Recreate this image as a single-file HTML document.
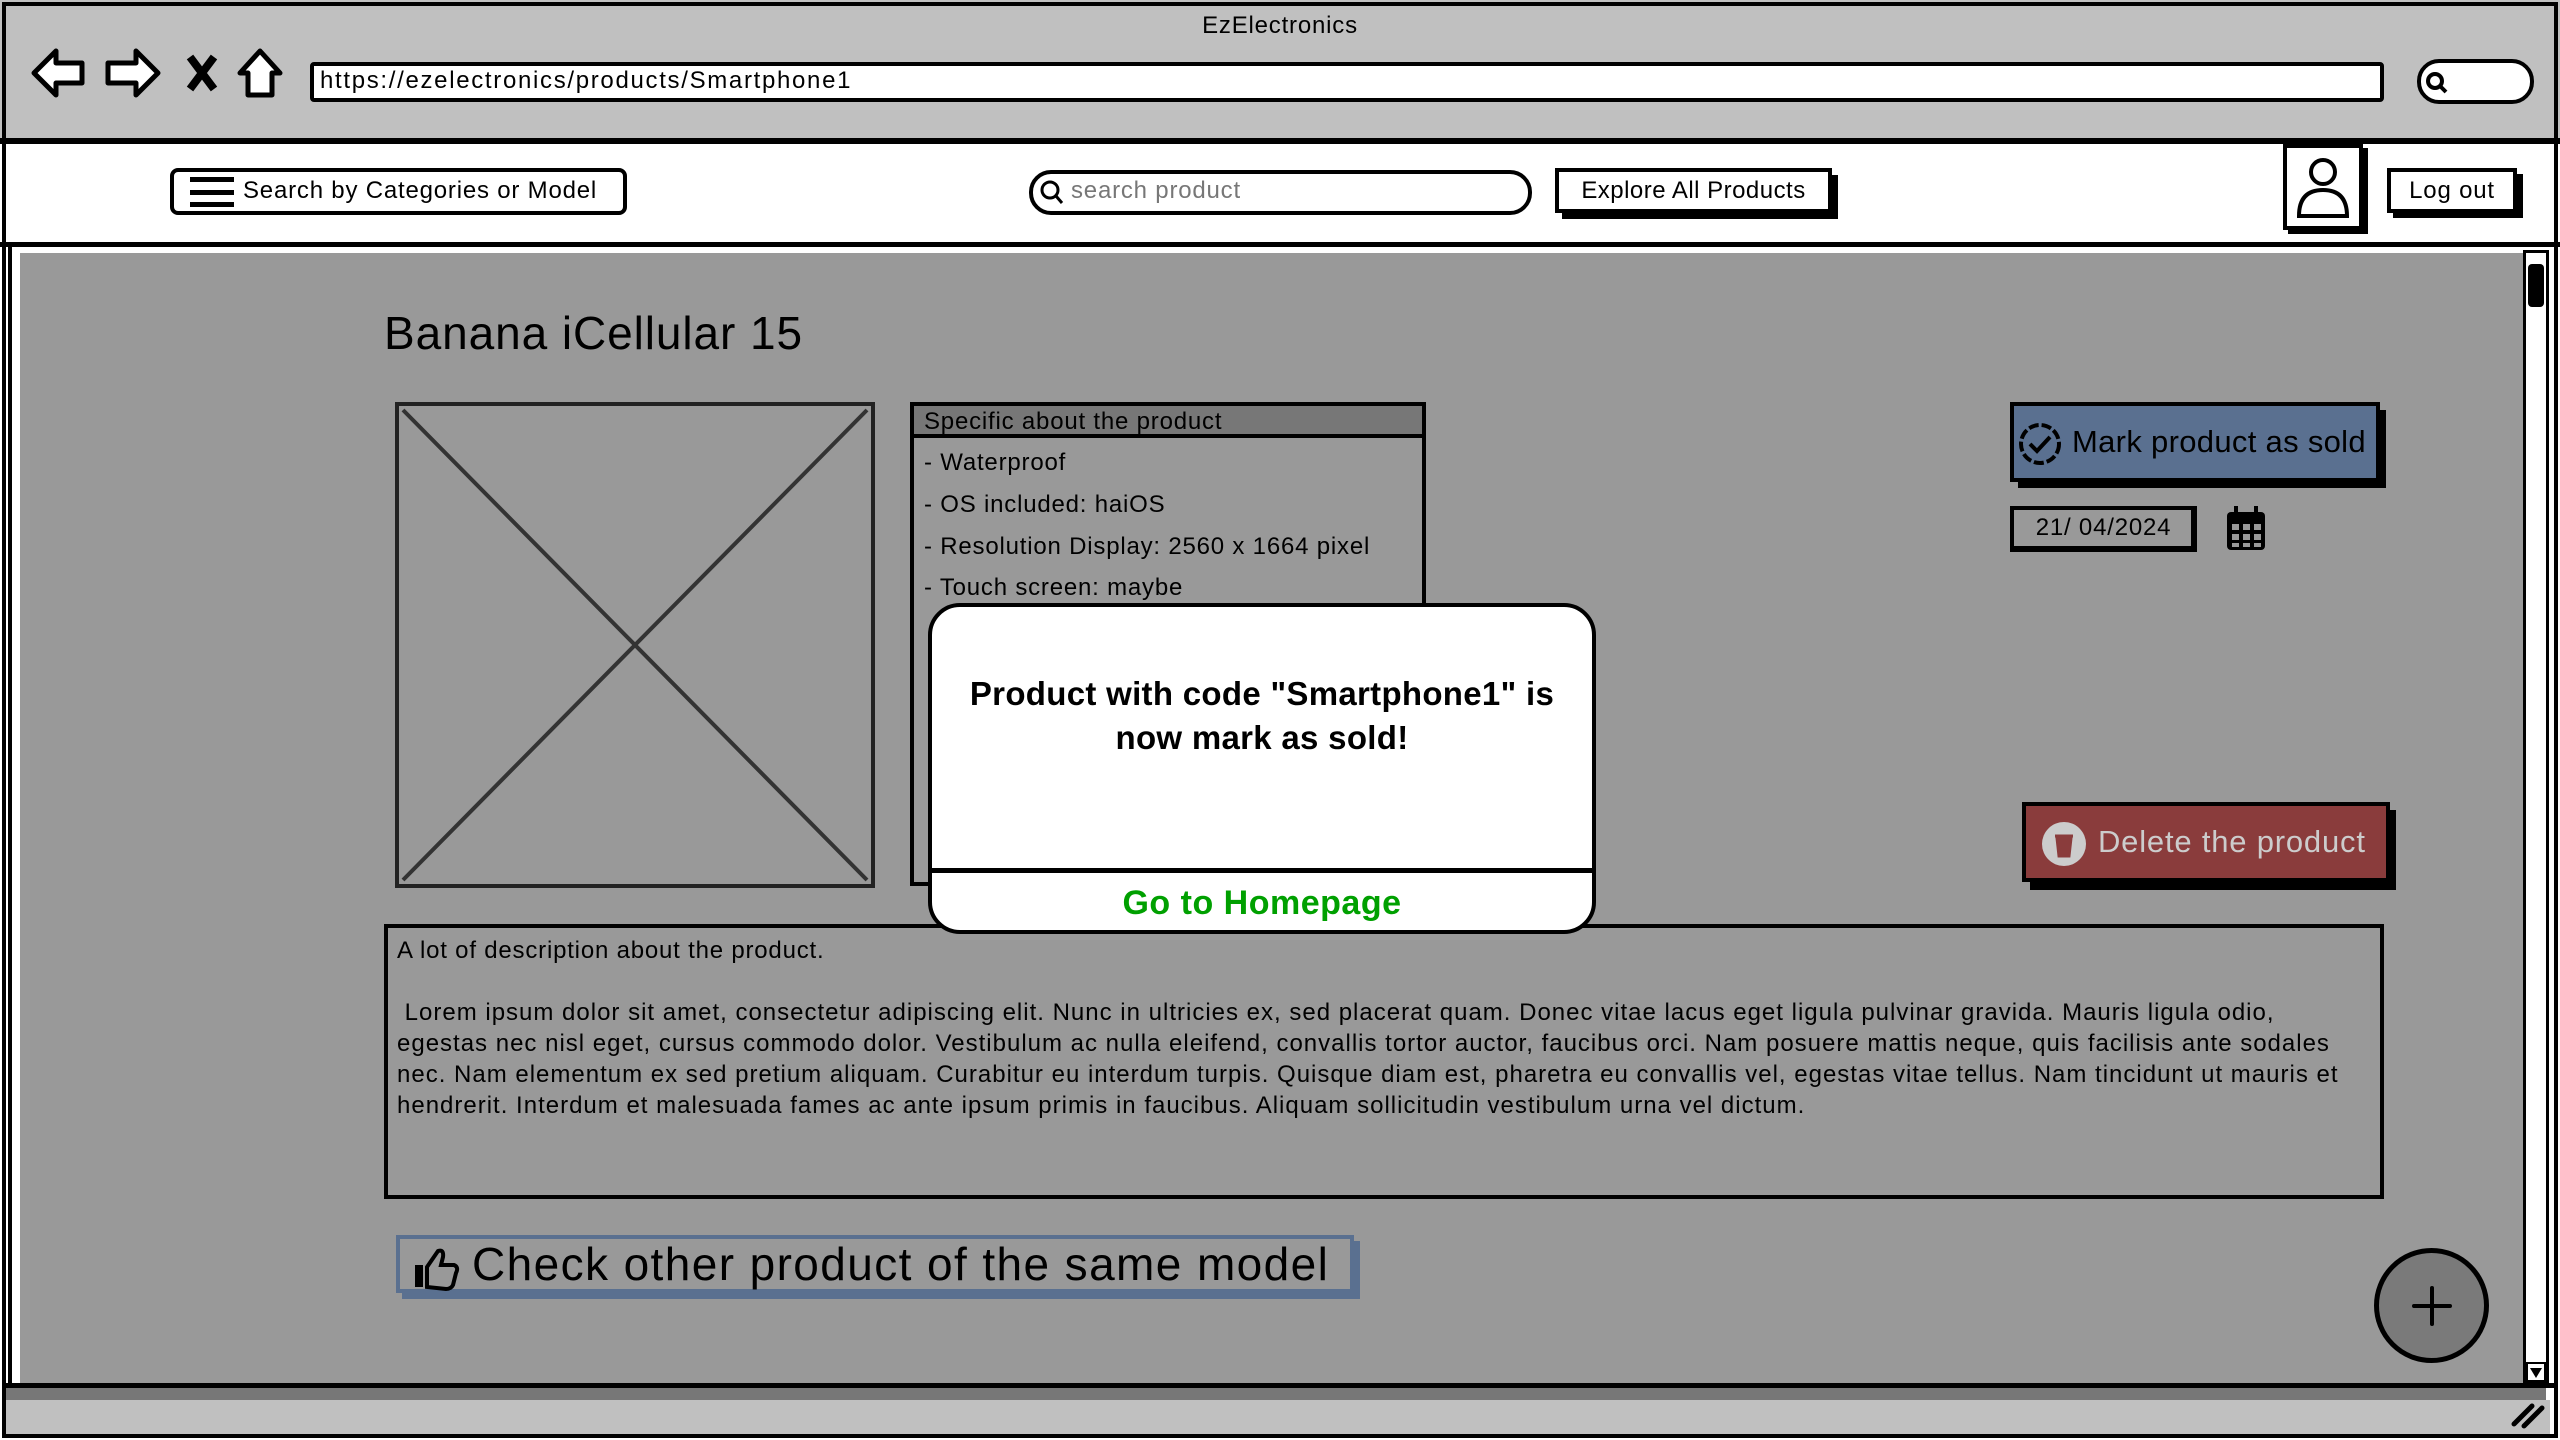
<!DOCTYPE html>
<html><head><meta charset="utf-8"><style>
*{margin:0;padding:0;box-sizing:border-box}
body{width:2560px;height:1440px;position:relative;overflow:hidden;background:#fff;font-family:"Liberation Sans",sans-serif;color:#000;letter-spacing:0.05em}
.a{position:absolute}
.t{position:absolute;white-space:nowrap}
</style></head><body>
<div class="a" style="left:0;top:0;width:2560px;height:140px;background:#c0c0c0"></div>
<div class="a" style="left:2px;top:2px;width:2556px;height:1436px;border:4px solid #000"></div>
<div class="t" style="left:0;width:2560px;text-align:center;top:12px;font-size:24px">EzElectronics</div>
<svg class="a" style="left:28px;top:45px" width="260" height="58" viewBox="0 0 260 58">
<path d="M6 28 L28 6 L28 18 L54 18 L54 38 L28 38 L28 50 Z" fill="#fff" stroke="#000" stroke-width="5" stroke-linejoin="round"/>
<path d="M130 28 L108 6 L108 18 L80 18 L80 38 L108 38 L108 50 Z" fill="#fff" stroke="#000" stroke-width="5" stroke-linejoin="round"/>
<path d="M162 12 L186 44 M186 12 L162 44" stroke="#000" stroke-width="8"/>
<path d="M232 6 L252 28 L244 28 L244 50 L220 50 L220 28 L212 28 Z" fill="#fff" stroke="#000" stroke-width="5" stroke-linejoin="round"/>
</svg>
<div class="a" style="left:310px;top:62px;width:2074px;height:40px;background:#fff;border:4px solid #000;border-radius:4px"></div>
<div class="t" style="left:320px;top:67px;font-size:24px;letter-spacing:0.07em">https://ezelectronics/products/Smartphone1</div>
<div class="a" style="left:2417px;top:59px;width:117px;height:45px;background:#fff;border:4px solid #000;border-radius:22px"></div>
<svg class="a" style="left:2424px;top:70px" width="26" height="26"><circle cx="11" cy="11" r="7" fill="none" stroke="#000" stroke-width="4"/><path d="M16 16 L22 22" stroke="#000" stroke-width="4"/></svg>
<div class="a" style="left:0;top:138px;width:2560px;height:6px;background:#000"></div>
<div class="a" style="left:0;top:242px;width:2560px;height:5px;background:#000"></div>
<div class="a" style="left:170px;top:168px;width:457px;height:47px;border:4px solid #000;border-radius:8px;background:#fff"></div>
<div class="a" style="left:190px;top:177px;width:44px;height:30px;border-top:5px solid #000;border-bottom:5px solid #000"></div>
<div class="a" style="left:190px;top:190px;width:44px;height:5px;background:#000"></div>
<div class="t" style="left:243px;top:177px;font-size:24px">Search by Categories or Model</div>
<div class="a" style="left:1029px;top:170px;width:503px;height:45px;border:4px solid #000;border-radius:22px;background:#fff"></div>
<svg class="a" style="left:1038px;top:178px" width="28" height="30"><circle cx="12" cy="12" r="8" fill="none" stroke="#000" stroke-width="3"/><path d="M18 18 L24 25" stroke="#000" stroke-width="3"/></svg>
<div class="t" style="left:1071px;top:177px;font-size:24px;color:#777">search product</div>
<div class="a" style="left:1562px;top:175px;width:276px;height:44px;background:#000"></div>
<div class="a" style="left:1555px;top:168px;width:277px;height:45px;border:4px solid #000;background:#fff"></div>
<div class="t" style="left:1555px;width:277px;text-align:center;top:177px;font-size:24px;letter-spacing:0.02em">Explore All Products</div>
<div class="a" style="left:2288px;top:148px;width:80px;height:86px;background:#000"></div>
<div class="a" style="left:2283px;top:144px;width:80px;height:86px;border:4px solid #000;background:#fff"></div>
<svg class="a" style="left:2287px;top:148px" width="72" height="78"><circle cx="36" cy="24" r="12" fill="none" stroke="#000" stroke-width="4"/><path d="M12 68 Q12 42 36 42 Q60 42 60 68 Z" fill="none" stroke="#000" stroke-width="4"/></svg>
<div class="a" style="left:2393px;top:174px;width:130px;height:44px;background:#000"></div>
<div class="a" style="left:2387px;top:168px;width:130px;height:45px;border:4px solid #000;background:#fff"></div>
<div class="t" style="left:2387px;width:130px;text-align:center;top:177px;font-size:24px">Log out</div>
<div class="a" style="left:8px;top:247px;width:2544px;height:1140px;border-left:4px solid #000"></div>
<div class="a" style="left:20px;top:253px;width:2505px;height:1132px;background:#999"></div>
<div class="a" style="left:2523px;top:250px;width:26px;height:1135px;border:3px solid #000;background:#fff"></div>
<div class="a" style="left:2528px;top:264px;width:16px;height:43px;background:#000;border-radius:4px"></div>
<div class="a" style="left:2526px;top:1362px;width:20px;height:20px;border:2px solid #000"></div>
<svg class="a" style="left:2528px;top:1366px" width="16" height="14"><path d="M2 2 L14 2 L8 12 Z" fill="#000"/></svg>
<div class="a" style="left:4px;top:1383px;width:2552px;height:5px;background:#000"></div>
<div class="a" style="left:6px;top:1388px;width:2540px;height:12px;background:#777"></div>
<div class="a" style="left:6px;top:1400px;width:2544px;height:34px;background:#c0c0c0"></div>
<svg class="a" style="left:2510px;top:1400px" width="36" height="30"><path d="M4 24 L22 6 M14 26 L32 8" stroke="#000" stroke-width="5" stroke-linecap="round"/></svg>

<div class="t" style="left:384px;top:306px;font-size:46px;letter-spacing:0.02em">Banana iCellular 15</div>
<div class="a" style="left:395px;top:402px;width:480px;height:486px;border:4px solid #222"></div>
<svg class="a" style="left:395px;top:402px" width="480" height="486"><path d="M8 8 L472 478 M472 8 L8 478" stroke="#333" stroke-width="4"/></svg>
<div class="a" style="left:910px;top:402px;width:516px;height:484px;border:4px solid #000"></div>
<div class="a" style="left:914px;top:406px;width:508px;height:32px;background:#777;border-bottom:4px solid #000"></div>
<div class="t" style="left:924px;top:408px;font-size:24px">Specific about the product</div>
<div class="t" style="left:924px;top:449px;font-size:24px">- Waterproof</div>
<div class="t" style="left:924px;top:491px;font-size:24px">- OS included: haiOS</div>
<div class="t" style="left:924px;top:533px;font-size:24px">- Resolution Display: 2560 x 1664 pixel</div>
<div class="t" style="left:924px;top:574px;font-size:24px">- Touch screen: maybe</div>
<div class="a" style="left:2018px;top:410px;width:368px;height:78px;background:#000"></div>
<div class="a" style="left:2010px;top:402px;width:370px;height:80px;background:#5a7090;border:4px solid #000"></div>
<svg class="a" style="left:2016px;top:420px" width="48" height="48"><circle cx="24" cy="24" r="19" fill="none" stroke="#000" stroke-width="4" stroke-dasharray="10 3"/><path d="M14 24 L21 31 L34 17" fill="none" stroke="#000" stroke-width="4"/></svg>
<div class="t" style="left:2072px;top:424px;font-size:31px;letter-spacing:0.01em">Mark product as sold</div>
<div class="a" style="left:2010px;top:506px;width:187px;height:46px;border:4px solid #000;border-right-width:6px;border-bottom-width:6px"></div>
<div class="t" style="left:2010px;width:187px;text-align:center;top:514px;font-size:24px">21/ 04/2024</div>
<svg class="a" style="left:2224px;top:504px" width="44" height="50"><rect x="3" y="8" width="38" height="38" rx="4" fill="#000"/><rect x="10" y="2" width="4" height="10" fill="#000"/><rect x="30" y="2" width="4" height="10" fill="#000"/><g fill="#999"><rect x="8" y="20" width="7" height="6"/><rect x="19" y="20" width="7" height="6"/><rect x="30" y="20" width="7" height="6"/><rect x="8" y="30" width="7" height="6"/><rect x="19" y="30" width="7" height="6"/><rect x="30" y="30" width="7" height="6"/><rect x="8" y="39" width="7" height="4"/><rect x="19" y="39" width="7" height="4"/><rect x="30" y="39" width="7" height="4"/></g></svg>
<div class="a" style="left:2030px;top:810px;width:366px;height:80px;background:#000"></div>
<div class="a" style="left:2022px;top:802px;width:368px;height:80px;background:#8a3c3c;border:4px solid #000"></div>
<svg class="a" style="left:2040px;top:820px" width="48" height="48"><circle cx="24" cy="24" r="22" fill="#ccc"/><path d="M15 16 L33 16 M17 18 L19 36 L29 36 L31 18 Z" stroke="#8a3c3c" stroke-width="3" fill="#8a3c3c"/></svg>
<div class="t" style="left:2098px;top:824px;font-size:31px;color:#ccc">Delete the product</div>
<div class="a" style="left:384px;top:924px;width:2000px;height:275px;border:4px solid #000"></div>
<div class="t" style="left:397px;top:935px;font-size:24px;line-height:31px">A lot of description about the product.</div>
<div class="t" style="left:397px;top:997px;font-size:24px;line-height:31px;letter-spacing:1.0px">&nbsp;Lorem ipsum dolor sit amet, consectetur adipiscing elit. Nunc in ultricies ex, sed placerat quam. Donec vitae lacus eget ligula pulvinar gravida. Mauris ligula odio,<br>egestas nec nisl eget, cursus commodo dolor. Vestibulum ac nulla eleifend, convallis tortor auctor, faucibus orci. Nam posuere mattis neque, quis facilisis ante sodales<br>nec. Nam elementum ex sed pretium aliquam. Curabitur eu interdum turpis. Quisque diam est, pharetra eu convallis vel, egestas vitae tellus. Nam tincidunt ut mauris et<br>hendrerit. Interdum et malesuada fames ac ante ipsum primis in faucibus. Aliquam sollicitudin vestibulum urna vel dictum.</div>
<div class="a" style="left:402px;top:1241px;width:958px;height:58px;background:#5a7090"></div>
<div class="a" style="left:396px;top:1235px;width:958px;height:58px;border:4px solid #5a7090;background:#999"></div>
<svg class="a" style="left:412px;top:1245px" width="50" height="46"><rect x="3" y="20" width="8" height="22" fill="#000"/><path d="M15 22 L26 6 Q32 4 31 12 L29 20 L42 20 Q47 22 44 28 L41 40 Q39 44 34 44 L15 42 Z" fill="none" stroke="#000" stroke-width="4"/></svg>
<div class="t" style="left:472px;top:1237px;font-size:46px;letter-spacing:1.4px">Check other product of the same model</div>
<div class="a" style="left:2374px;top:1248px;width:115px;height:115px;border-radius:50%;background:#7a7a7a;border:5px solid #000"></div>
<svg class="a" style="left:2410px;top:1284px" width="44" height="44"><path d="M22 4 L22 40 M4 22 L40 22" stroke="#000" stroke-width="4" stroke-linecap="round"/></svg>
<div class="a" style="left:928px;top:603px;width:668px;height:331px;background:#fff;border:4px solid #000;border-radius:32px"></div>
<div class="a" style="left:930px;top:868px;width:664px;height:5px;background:#000"></div>
<div class="t" style="left:928px;width:668px;text-align:center;top:672px;font-size:33px;font-weight:bold;line-height:44px;letter-spacing:0.3px">Product with code "Smartphone1" is<br>now mark as sold!</div>
<div class="t" style="left:928px;width:668px;text-align:center;top:884px;font-size:34px;font-weight:bold;color:#00a000;letter-spacing:0.5px">Go to Homepage</div>
</body></html>
